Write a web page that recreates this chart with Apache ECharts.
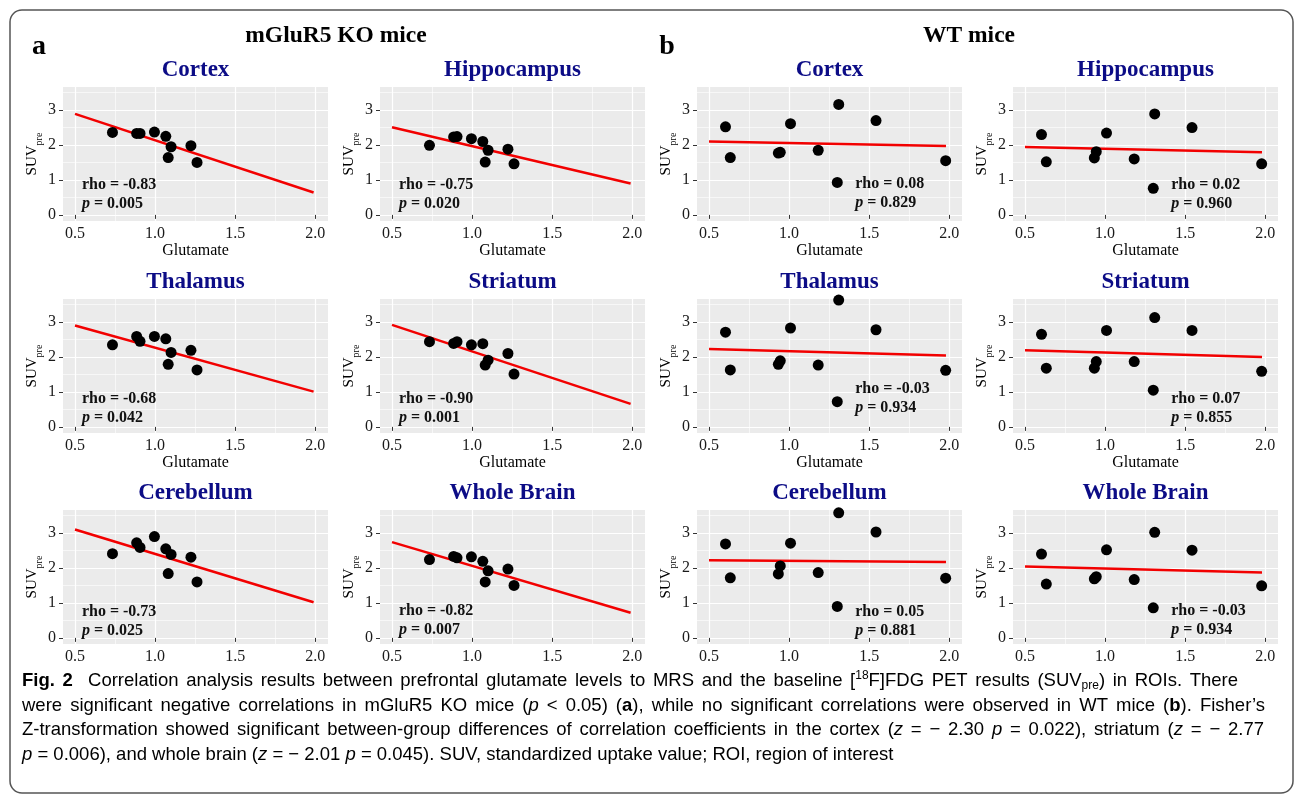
<!DOCTYPE html>
<html>
<head>
<meta charset="utf-8">
<title>Fig. 2</title>
<script src="https://cdn.jsdelivr.net/npm/echarts@6/dist/echarts.min.js"></script>
<style>
  html, body { margin: 0; padding: 0; background: #fff; }
  #chart { width: 1296px; height: 798px; }
</style>
</head>
<body>
<div id="chart"></div>
<script>
// ---- data ----
const regions = ['Cortex', 'Hippocampus', 'Thalamus', 'Striatum', 'Cerebellum', 'Whole Brain'];

// glutamate per mouse (x)
const koGlutamate = [0.734, 0.885, 0.906, 0.996, 1.067, 1.082, 1.100, 1.224, 1.262];
const wtGlutamate = [0.603, 0.633, 0.933, 0.945, 1.009, 1.182, 1.301, 1.310, 1.543, 1.978];

// SUVpre per region, same mouse order as glutamate
const koCortex      = [2.36, 2.33, 2.33, 2.37, 2.25, 1.64, 1.95, 1.98, 1.50];
const koHippocampus = [1.99, 2.23, 2.24, 2.18, 2.10, 1.51, 1.85, 1.88, 1.46];
const koThalamus    = [2.35, 2.59, 2.45, 2.59, 2.52, 1.79, 2.13, 2.19, 1.63];
const koStriatum    = [2.44, 2.39, 2.44, 2.35, 2.38, 1.77, 1.91, 2.10, 1.51];
const koCerebellum  = [2.41, 2.72, 2.59, 2.90, 2.55, 1.84, 2.39, 2.31, 1.60];
const koWholeBrain  = [2.24, 2.33, 2.29, 2.32, 2.19, 1.60, 1.92, 1.97, 1.50];

const wtCortex      = [2.52, 1.64, 1.77, 1.79, 2.61, 1.85, 0.93, 3.16, 2.70, 1.55];
const wtHippocampus = [2.30, 1.52, 1.63, 1.81, 2.34, 1.60, 0.76, 2.89, 2.50, 1.46];
const wtThalamus    = [2.71, 1.63, 1.79, 1.89, 2.83, 1.77, 0.72, 3.63, 2.78, 1.62];
const wtStriatum    = [2.65, 1.68, 1.68, 1.87, 2.76, 1.87, 1.05, 3.13, 2.76, 1.59];
const wtCerebellum  = [2.69, 1.72, 1.83, 2.06, 2.71, 1.87, 0.90, 3.58, 3.03, 1.71];
const wtWholeBrain  = [2.40, 1.54, 1.69, 1.75, 2.52, 1.67, 0.86, 3.02, 2.51, 1.49];

// fitted lines: value at start / end of the x span
const koFitX = [0.5, 1.99];
const koFitStart = [2.89, 2.51, 2.90, 2.92, 3.10, 2.74];
const koFitEnd   = [0.64, 0.90, 1.01, 0.66, 1.02, 0.72];
const wtFitX = [0.5, 1.98];
const wtFitStart = [2.10, 1.94, 2.23, 2.19, 2.22, 2.04];
const wtFitEnd   = [1.97, 1.79, 2.04, 2.00, 2.17, 1.87];

const koRho = ['-0.83', '-0.75', '-0.68', '-0.90', '-0.73', '-0.82'];
const koP   = ['0.005', '0.020', '0.042', '0.001', '0.025', '0.007'];
const wtRho = ['0.08', '0.02', '-0.03', '0.07', '0.05', '-0.03'];
const wtP   = ['0.829', '0.960', '0.934', '0.855', '0.881', '0.934'];

const xTicks = [0.5, 1.0, 1.5, 2.0];
const xMinor = [0.75, 1.25, 1.75];
const yTicks = [0, 1, 2, 3];
const yMinor = [0.5, 1.5, 2.5, 3.5];

// ---- layout ----
const serif = "'Liberation Serif', 'Times New Roman', serif";
const sans = "'Liberation Sans', Arial, sans-serif";
const cols = [63, 380, 697, 1013];
const rows = [87, 299, 510];
const GW = 265, GH = 134;
const koLabelY = [0.60, 0.58, 0.53, 0.54, 0.48, 0.50];
const wtLabelY = [0.61, 0.59, 0.81, 0.53, 0.47, 0.49];

const groups = [
  { x: koGlutamate, suv: [koCortex, koHippocampus, koThalamus, koStriatum, koCerebellum, koWholeBrain],
    fitX: koFitX, fitStart: koFitStart, fitEnd: koFitEnd, rho: koRho, p: koP, labelX: 0.54, labelY: koLabelY },
  { x: wtGlutamate, suv: [wtCortex, wtHippocampus, wtThalamus, wtStriatum, wtCerebellum, wtWholeBrain],
    fitX: wtFitX, fitStart: wtFitStart, fitEnd: wtFitEnd, rho: wtRho, p: wtP, labelX: 1.41, labelY: wtLabelY }
];

const grid = [], xAxis = [], yAxis = [], series = [], graphic = [];

graphic.push({
  type: 'rect', z: -10, silent: true,
  shape: { x: 10, y: 10, width: 1283, height: 783, r: 12 },
  style: { fill: 'none', stroke: '#555', lineWidth: 1.5 }
});

function headText(text, x, y, size) {
  return { type: 'text', x, y, silent: true,
    style: { text, fontFamily: serif, fontWeight: 'bold', fontSize: size, fill: '#000',
             align: 'center', verticalAlign: 'middle' } };
}
graphic.push(headText('a', 39, 47, 28), headText('b', 667, 47, 28));
graphic.push(headText('mGluR5 KO mice', 336, 36, 23.5), headText('WT mice', 969, 36, 23.5));

groups.forEach((g, gi) => {
  regions.forEach((name, ri) => {
    const k = grid.length;
    const row = Math.floor(ri / 2);
    const left = cols[gi * 2 + (ri % 2)];
    const top = rows[row];
    grid.push({ left, top, width: GW, height: GH, show: true,
      backgroundColor: '#EBEBEB', borderWidth: 0, containLabel: false });

    xAxis.push({
      gridIndex: k, type: 'value', min: 0.425, max: 2.08,
      axisLine: { show: false },
      axisTick: { show: true, length: 4, lineStyle: { color: '#333' }, customValues: xTicks },
      axisLabel: { customValues: xTicks, margin: 5, fontFamily: serif, fontSize: 16, color: '#1a1a1a',
        formatter: v => Number(v).toFixed(1) },
      splitLine: { show: true, lineStyle: { color: '#fff', width: 1.2 } },
      // the bottom row's axis title is cut off by the caption in the figure
      name: row < 2 ? 'Glutamate' : '', nameLocation: 'middle', nameGap: 22,
      nameTextStyle: { fontFamily: serif, fontSize: 16, color: '#000' }
    }, {
      gridIndex: k, type: 'value', min: 0.425, max: 2.08, position: 'bottom',
      axisLine: { show: false }, axisLabel: { show: false },
      axisTick: { show: false, customValues: xMinor },
      splitLine: { show: true, lineStyle: { color: '#fff', width: 0.6 } }
    });

    yAxis.push({
      gridIndex: k, type: 'value', min: -0.175, max: 3.66,
      axisLine: { show: false },
      axisTick: { show: true, length: 4, lineStyle: { color: '#333' }, customValues: yTicks },
      axisLabel: { customValues: yTicks, margin: 7, fontFamily: serif, fontSize: 16, color: '#1a1a1a' },
      splitLine: { show: true, lineStyle: { color: '#fff', width: 1.2 } },
      name: '{a|SUV}{b|pre}', nameLocation: 'middle', nameRotate: 90, nameGap: 16,
      nameTextStyle: {
        rich: {
          a: { fontFamily: serif, fontSize: 15, lineHeight: 20, verticalAlign: 'top', color: '#000' },
          b: { fontFamily: serif, fontSize: 10, lineHeight: 10, padding: [10, 0, 0, 0], verticalAlign: 'top', color: '#000' }
        }
      }
    }, {
      gridIndex: k, type: 'value', min: -0.175, max: 3.66, position: 'left',
      axisLine: { show: false }, axisLabel: { show: false },
      axisTick: { show: false, customValues: yMinor },
      splitLine: { show: true, lineStyle: { color: '#fff', width: 0.6 } }
    });

    const xa = 2 * k, ya = 2 * k;
    series.push({
      type: 'line', xAxisIndex: xa, yAxisIndex: ya, z: 2, silent: true,
      symbol: 'none', lineStyle: { color: '#f20000', width: 2.5 },
      data: [[g.fitX[0], g.fitStart[ri]], [g.fitX[1], g.fitEnd[ri]]]
    }, {
      type: 'scatter', xAxisIndex: xa, yAxisIndex: ya, z: 3, silent: true,
      symbolSize: 11, itemStyle: { color: '#000', opacity: 1 },
      data: g.x.map((x, i) => [x, g.suv[ri][i]])
    }, {
      type: 'scatter', xAxisIndex: xa, yAxisIndex: ya, z: 4, silent: true,
      symbolSize: 1, itemStyle: { color: 'rgba(0,0,0,0)', opacity: 1 },
      data: [[g.labelX, g.labelY[ri]]],
      label: {
        show: true, position: 'right', distance: 0, opacity: 1,
        formatter: '{b|rho = ' + g.rho[ri] + '}\n{i|p}{b| = ' + g.p[ri] + '}',
        rich: {
          b: { fontFamily: serif, fontWeight: 'bold', fontSize: 16, lineHeight: 19, color: '#111' },
          i: { fontFamily: serif, fontWeight: 'bold', fontStyle: 'italic', fontSize: 16, lineHeight: 19, color: '#111' }
        }
      }
    });

    graphic.push({
      type: 'text', x: left + GW / 2, y: top - 17, silent: true,
      style: { text: name, fontFamily: serif, fontWeight: 'bold', fontSize: 23, fill: '#0c0c86',
               align: 'center', verticalAlign: 'middle' }
    });
  });
});

// ---- caption ----
const capBase = { fontSize: 18.5, fontFamily: sans, color: '#231f20', lineHeight: 22 };
const capRich = {
  n: { ...capBase },
  fig: { ...capBase, fontWeight: 'bold', color: '#1b5ea8' },
  i: { ...capBase, fontStyle: 'italic' },
  b: { ...capBase, fontWeight: 'bold' },
  sup: { ...capBase, fontSize: 12, lineHeight: 12, verticalAlign: 'top' },
  sub: { ...capBase, fontSize: 12, lineHeight: 12, verticalAlign: 'bottom' }
};
const captionLines = [
  [['fig', 'Fig. 2'], ['n', '  Correlation analysis results between prefrontal glutamate levels to MRS and the baseline ['],
   ['sup', '18'], ['n', 'F]FDG PET results (SUV'], ['sub', 'pre'], ['n', ') in ROIs. There']],
  [['n', 'were significant negative correlations in mGluR5 KO mice ('], ['i', 'p'], ['n', ' < 0.05) ('], ['b', 'a'],
   ['n', '), while no significant correlations were observed in WT mice ('], ['b', 'b'], ['n', '). Fisher\u2019s']],
  [['n', 'Z-transformation showed significant between-group differences of correlation coefficients in the cortex ('],
   ['i', 'z'], ['n', ' = \u2212 2.30 '], ['i', 'p'], ['n', ' = 0.022), striatum ('], ['i', 'z'], ['n', ' = \u2212 2.77']],
  [['i', 'p'], ['n', ' = 0.006), and whole brain ('], ['i', 'z'], ['n', ' = \u2212 2.01 '], ['i', 'p'],
   ['n', ' = 0.045). SUV, standardized uptake value; ROI, region of interest']]
];
const capRight = [1238, 1265, 1264, null];
const capY = [681, 706, 730, 755];
const capLeft = 22;

const measure = document.createElement('canvas').getContext('2d');
function fontOf(st) {
  return (st.fontStyle || 'normal') + ' ' + (st.fontWeight || 'normal') + ' ' + st.fontSize + 'px ' + st.fontFamily;
}
function buildLine(segs, li, right) {
  const parts = [];
  segs.forEach(([st, txt]) => {
    txt.split(' ').forEach((w, j) => {
      if (j > 0) parts.push(null);
      if (w) parts.push([st, w]);
    });
  });
  let natural = 0, nSp = 0;
  parts.forEach(p => {
    if (p) { measure.font = fontOf(capRich[p[0]]); natural += measure.measureText(p[1]).width; }
    else nSp++;
  });
  measure.font = fontOf(capRich.n);
  let spW = measure.measureText(' ').width;
  if (right && nSp) spW = Math.max(1.5, (right - capLeft - natural) / nSp);
  capRich['s' + li] = { ...capBase, width: spW };
  return parts.map(p => p ? '{' + p[0] + '|' + p[1] + '}' : '{s' + li + '| }').join('');
}
captionLines.forEach((segs, li) => {
  const text = buildLine(segs, li, capRight[li]);
  graphic.push({
    type: 'text', x: capLeft, y: capY[li], silent: true,
    style: { text, rich: capRich, align: 'left', verticalAlign: 'middle' }
  });
});

const chart = echarts.init(document.getElementById('chart'));
chart.setOption({
  animation: false,
  backgroundColor: '#fff',
  grid, xAxis, yAxis, series, graphic
});
</script>
</body>
</html>
